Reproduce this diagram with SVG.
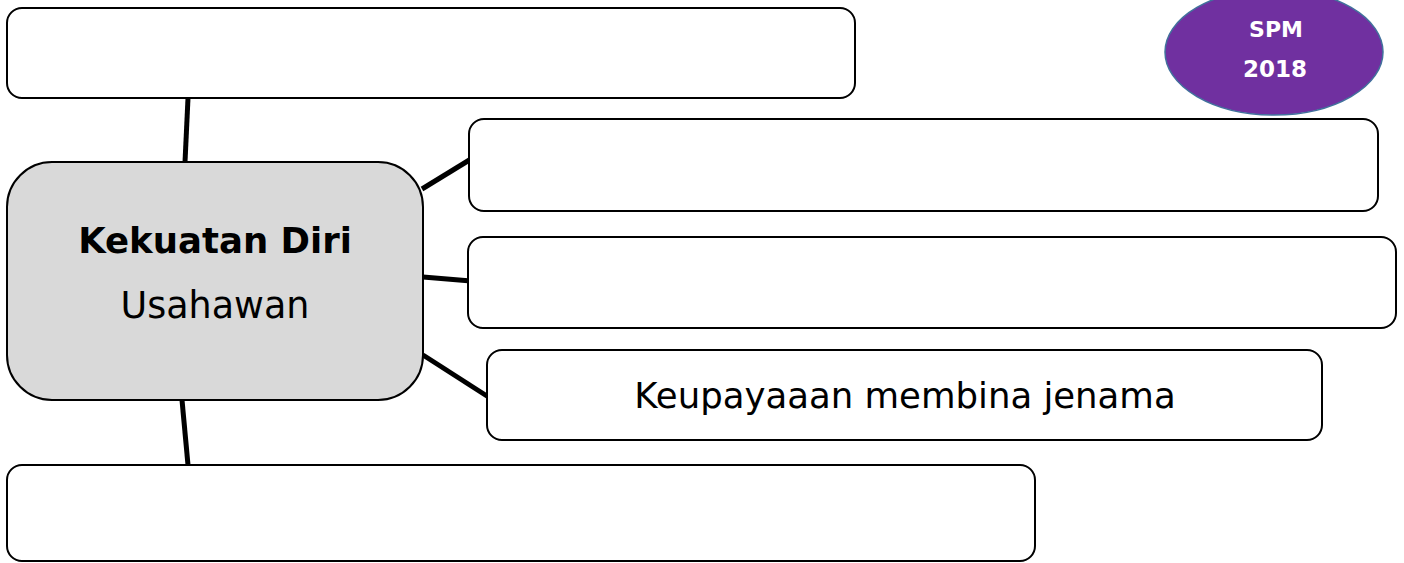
<svg xmlns="http://www.w3.org/2000/svg" width="1404" height="563" viewBox="0 0 1404 563">
<style>
.box{fill:#fff;stroke:#000;stroke-width:2}
.conn{stroke:#000;stroke-width:5;stroke-linecap:butt;fill:none}
.t{font-family:"Comic Sans MS","DejaVu Sans",sans-serif;fill:#000}
.w{fill:#fff}
</style>
<rect width="1404" height="563" fill="#fff"/>
<g id="connectors">
<line class="conn" x1="188" y1="98" x2="185" y2="162"/>
<line class="conn" x1="422" y1="189" x2="471" y2="159"/>
<line class="conn" x1="423" y1="277" x2="471" y2="281"/>
<line class="conn" x1="423" y1="355" x2="490" y2="398"/>
<line class="conn" x1="182" y1="400" x2="188" y2="465"/>
</g>
<g id="node-top"><rect class="box" x="7" y="8" width="848" height="90" rx="15"/></g>
<g id="node-spm">
<ellipse cx="1274" cy="52" rx="109" ry="63" fill="#7030a0" stroke="#41719c" stroke-width="1.5"/>
<text class="t w" x="1276" y="37" text-anchor="middle" font-size="22" font-weight="bold">SPM</text>
<text class="t w" x="1275" y="77" text-anchor="middle" font-size="23" font-weight="bold">2018</text>
</g>
<g id="node-center">
<rect x="7" y="162" width="416" height="238" rx="45" fill="#d9d9d9" stroke="#000" stroke-width="2"/>
<text class="t" x="215" y="253" text-anchor="middle" font-size="35.5" font-weight="bold">Kekuatan Diri</text>
<text class="t" x="215" y="318" text-anchor="middle" font-size="36.5">Usahawan</text>
</g>
<g id="node-b1"><rect class="box" x="469" y="119" width="909" height="92" rx="15"/></g>
<g id="node-b2"><rect class="box" x="468" y="237" width="928" height="91" rx="15"/></g>
<g id="node-b3">
<rect class="box" x="487" y="350" width="835" height="90" rx="15"/>
<text class="t" x="905" y="408" text-anchor="middle" font-size="35.5">Keupayaaan membina jenama</text>
</g>
<g id="node-bottom"><rect class="box" x="7" y="465" width="1028" height="96" rx="15"/></g>
</svg>
